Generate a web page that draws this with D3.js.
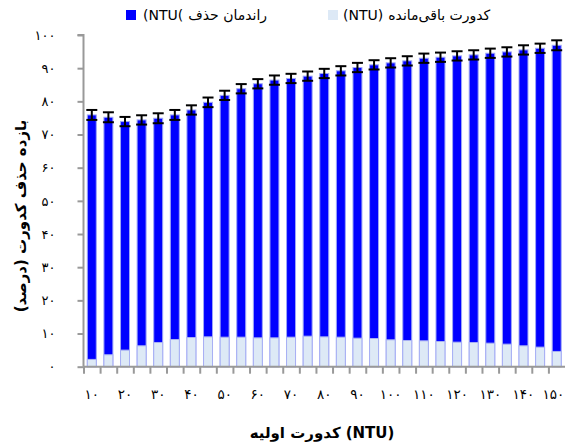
<!DOCTYPE html>
<html><head><meta charset="utf-8">
<script src="https://cdn.jsdelivr.net/npm/d3@7"></script>
<style>
html,body{margin:0;padding:0;background:#fff;}
svg{display:block;}
</style></head>
<body>
<svg id="chart" width="566" height="446"></svg>
<script>
// ---- data ----
const initialTurbidity = [10,15,20,25,30,35,40,45,50,55,60,65,70,75,80,85,90,95,100,105,110,115,120,125,130,135,140,145,150];
const removalEfficiency = [75.9,75.2,73.9,74.4,74.9,75.9,77.4,79.7,81.8,83.8,85.3,86.4,86.9,87.6,88.4,89.2,90.2,91.0,91.6,92.2,93.0,93.3,93.7,94.0,94.5,94.9,95.5,96.0,96.9];
const removalError = [1.5,1.5,1.4,1.4,1.5,1.5,1.4,1.45,1.4,1.4,1.4,1.4,1.4,1.4,1.4,1.4,1.4,1.4,1.4,1.4,1.4,1.4,1.4,1.4,1.4,1.4,1.4,1.4,1.5];
const residualTurbidity = [2.2,3.6,5.0,6.3,7.3,8.2,8.8,9.0,8.9,8.9,8.7,8.7,8.9,9.2,9.0,8.9,8.6,8.5,8.1,7.9,7.8,7.6,7.4,7.3,7.1,6.8,6.3,5.9,4.6];
const yTicks = [0,10,20,30,40,50,60,70,80,90,100];
// legend labels: [latin part as displayed, persian part]
const seriesNames = [["(NTU(", "راندمان حذف"], ["(NTU)", "کدورت باقی‌مانده"]];
const xTitle = ["کدورت اولیه", "(NTU)"];
const yTitle = "بازده حذف کدورت (درصد)";

const fa = s => String(s).replace(/[0-9]/g, d => "۰۱۲۳۴۵۶۷۸۹"[+d]);

const svg = d3.select("#chart");
const mLeft = 83.5, mRight = 565, mTop = 35, mBottom = 366.7;
const font = "'DejaVu Sans', sans-serif";

const x = d3.scaleBand().domain(initialTurbidity).range([mLeft, mRight]).paddingInner(0.46).paddingOuter(0.23);
const xb = d3.scaleLinear().domain([0, initialTurbidity.length]).range([mLeft, mRight]);
const y = d3.scaleLinear().domain([0, 100]).range([mBottom, mTop]);

const axisColor = "#999";

// y axis
const gy = svg.append("g").attr("transform", `translate(${mLeft},0)`)
  .call(d3.axisLeft(y).tickValues(yTicks).tickSize(6).tickPadding(22).tickFormat(fa));
gy.select(".domain").attr("stroke", axisColor).attr("stroke-width", 2).attr("d", `M-6,${mTop}H0V${mBottom}`);
gy.selectAll(".tick line").attr("stroke", axisColor).attr("stroke-width", 2);
gy.selectAll(".tick text").attr("font-family", font).attr("font-size", 13).attr("fill", "#000");

// bars
const bw = x.bandwidth();
svg.append("g").selectAll("rect").data(initialTurbidity).join("rect")
  .attr("x", d => x(d)).attr("width", bw)
  .attr("y", (d,i) => y(removalEfficiency[i]))
  .attr("height", (d,i) => y(0) - y(removalEfficiency[i]))
  .attr("fill", "#0000ff").attr("stroke", "#9ea6f6").attr("stroke-width", 1);

svg.append("g").selectAll("rect").data(initialTurbidity).join("rect")
  .attr("x", d => x(d)).attr("width", bw)
  .attr("y", (d,i) => y(residualTurbidity[i]))
  .attr("height", (d,i) => y(0) - y(residualTurbidity[i]))
  .attr("fill", "#dde9f6").attr("stroke", "#a8b0f4").attr("stroke-width", 1);

// error bars
const eg = svg.append("g").attr("stroke", "#000").attr("stroke-width", 2);
initialTurbidity.forEach((d,i) => {
  const cx = x(d) + bw/2, hi = y(removalEfficiency[i] + removalError[i]), lo = y(removalEfficiency[i] - removalError[i]);
  eg.append("line").attr("x1", cx).attr("x2", cx).attr("y1", hi).attr("y2", lo);
  eg.append("line").attr("x1", cx-5.5).attr("x2", cx+5.5).attr("y1", hi).attr("y2", hi);
  eg.append("line").attr("x1", cx-5.5).attr("x2", cx+5.5).attr("y1", lo).attr("y2", lo);
});

// x axis ticks at band boundaries
const gxb = svg.append("g").attr("transform", `translate(0,${mBottom})`)
  .call(d3.axisBottom(xb).tickValues(d3.range(initialTurbidity.length)).tickSize(7).tickFormat(""));
gxb.select(".domain").attr("stroke", axisColor).attr("stroke-width", 2).attr("d", `M${mLeft},0H${mRight}`);
gxb.selectAll(".tick line").attr("stroke", axisColor).attr("stroke-width", 2);

// x labels
const gx = svg.append("g").attr("transform", `translate(0,${mBottom})`)
  .call(d3.axisBottom(x).tickSize(0).tickPadding(23).tickFormat(d => d % 10 === 0 ? fa(d) : ""));
gx.select(".domain").remove();
gx.selectAll(".tick text").attr("font-family", font).attr("font-size", 13.5).attr("fill", "#000");
// keep last label inside
gx.selectAll(".tick text").filter(d => d === 150).attr("text-anchor", "end").attr("dx", 7.5);

// axis titles (two pieces, laid out left to right as in the reference)
const xt1 = svg.append("text").attr("y", 438).attr("font-family", font).attr("font-size", 15)
  .attr("font-weight", "bold").text(xTitle[0]);
const xt2 = svg.append("text").attr("y", 438).attr("font-family", font).attr("font-size", 15)
  .attr("font-weight", "bold").attr("direction", "ltr").text(xTitle[1]);
const w1 = xt1.node().getComputedTextLength(), w2 = xt2.node().getComputedTextLength(), gap = 5;
const xs = 322 - (w1 + gap + w2) / 2;
xt1.attr("x", xs);
xt2.attr("x", xs + w1 + gap);

svg.append("text").attr("transform", "translate(26,216) rotate(-90)").attr("text-anchor", "middle")
  .attr("font-family", font).attr("font-size", 15).attr("font-weight", "bold").attr("direction", "rtl")
  .text(yTitle);

// legend
const legend = [
  {name: seriesNames[0], color: "#0000ff", sx: 126, tx: 143},
  {name: seriesNames[1], color: "#dde9f6", sx: 328, tx: 343}
];
legend.forEach(l => {
  svg.append("rect").attr("x", l.sx).attr("y", 10).attr("width", 10).attr("height", 10).attr("fill", l.color);
  const t1 = svg.append("text").attr("x", l.tx).attr("y", 20).attr("font-family", font).attr("font-size", 14)
    .attr("direction", "ltr").attr("fill", "#000").text(l.name[0]);
  const tw = t1.node().getComputedTextLength();
  svg.append("text").attr("x", l.tx + tw + 5).attr("y", 20).attr("font-family", font).attr("font-size", 14)
    .attr("fill", "#000").text(l.name[1]);
});
</script>
</body></html>
